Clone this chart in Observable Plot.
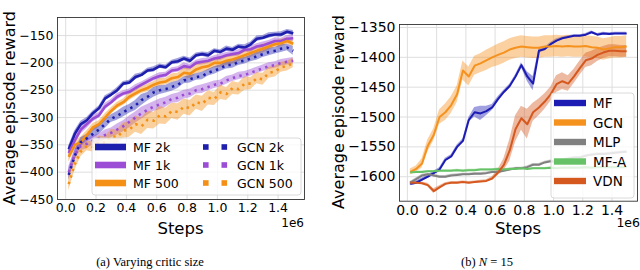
<!DOCTYPE html>
<html><head><meta charset="utf-8">
<script src="https://cdn.jsdelivr.net/npm/d3@7"></script>
<script src="https://cdn.jsdelivr.net/npm/@observablehq/plot@0.6"></script>
<style>
body{margin:0;background:#fff;}
#wrap{position:relative;width:640px;height:270px;overflow:hidden;background:#fff;}
.panel{position:absolute;top:0;}
#ov{position:absolute;left:0;top:0;pointer-events:none;}
</style></head>
<body><div id="wrap"><div class="panel" id="pa" style="left:0"></div><div class="panel" id="pb" style="left:320px"></div><svg id="ov" width="640" height="270"></svg></div>
<script>
// shared x positions (in units of 1e6 steps)
const steps = [0.02,0.06,0.10,0.14,0.18, 0.22,0.26,0.30,0.34,0.38, 0.42,0.46,0.50,0.54,0.58, 0.62,0.66,0.70,0.74,0.78, 0.82,0.86,0.90,0.94,0.98, 1.02,1.06,1.10,1.14,1.18, 1.22,1.26,1.30,1.34,1.38, 1.42,1.46,1.50];
const xTicks = [0,0.2,0.4,0.6,0.8,1.0,1.2,1.4];

// ---- panel (a): varying critic size ----
const aLabels = ["MF 2k","MF 1k","MF 500","GCN 2k","GCN 1k","GCN 500"];
const aYTicks = [-450,-400,-350,-300,-250,-200,-150];
const mf2k  = [-358,-330,-312,-305,-292, -283,-265,-258,-250,-238, -236,-226,-222,-214,-212, -206,-208,-199,-197,-192, -196,-186,-184,-186,-178, -180,-174,-176,-170,-172, -166,-156,-154,-150,-148, -148,-143,-146];
const mf1k  = [-365,-342,-322,-312,-302, -296,-280,-272,-262,-256, -253,-246,-240,-234,-228, -224,-222,-214,-212,-206, -208,-200,-198,-196,-192, -190,-186,-184,-182,-176, -175,-170,-168,-164,-160, -160,-156,-155];
const mf500 = [-372,-350,-345,-332,-318, -312,-300,-288,-278,-272, -262,-256,-250,-246,-240, -236,-234,-228,-226,-218, -220,-212,-208,-206,-200, -200,-196,-194,-190,-186, -182,-178,-174,-170,-166, -164,-160,-165];
const gcn2k = [-405,-370,-345,-338,-330, -322,-312,-302,-297,-290, -284,-278,-268,-262,-254, -250,-248,-244,-240,-232, -230,-226,-224,-218,-214, -210,-204,-204,-198,-196, -192,-188,-184,-180,-178, -174,-172,-178];
const gcn1k = [-400,-368,-352,-348,-342, -338,-332,-328,-322,-316, -308,-300,-292,-286,-280, -276,-272,-266,-264,-258, -256,-250,-248,-244,-240, -238,-232,-228,-224,-222, -218,-214,-210,-206,-204, -200,-198,-196];
const gcn500= [-422,-385,-362,-352,-354, -344,-346,-334,-336,-324, -322,-312,-316,-304,-306, -296,-298,-288,-290,-280, -283,-272,-275,-264,-266, -254,-257,-246,-248,-238, -238,-228,-230,-218,-216, -208,-206,-200];
// half-width of shaded band
const bMf2k  = [6,6,5,5,4, 4,5,4,5,4, 4,5,4,4,5, 4,4,4,5,4, 5,4,4,5,4, 4,5,4,4,5, 4,5,4,5,4, 5,4,5];
const bMf1k  = [8,7,8,8,6, 5,6,5,6,5, 5,6,5,5,5, 6,5,5,5,6, 5,5,6,5,5, 6,5,5,6,5, 6,5,6,5,6, 5,6,6];
const bMf500 = [10,9,9,8,7, 6,7,6,6,6, 7,6,6,7,6, 7,6,8,7,8, 9,8,9,8,9, 8,9,8,8,7, 8,7,8,7,6, 7,6,6];
const bGcn2k = [10,9,8,7,8, 9,8,7,8,9, 8,9,10,8,9, 8,7,8,7,6, 7,6,7,6,7, 6,7,6,7,6, 6,7,6,7,6, 7,6,8];
const bGcn1k = [10,10,9,9,8, 8,9,9,10,10, 11,10,11,10,9, 10,9,8,9,8, 8,7,8,7,7, 6,7,6,7,6, 6,6,6,6,6, 6,6,6];
const bGcn500= [12,12,10,9,9, 10,11,12,13,14, 14,15,15,16,15, 16,15,14,15,14, 14,13,14,13,12, 13,12,12,11,12, 11,10,11,10,10, 9,9,9];

// ---- panel (b): N = 15 ----
const bLabels = ["MF","GCN","MLP","MF-A","VDN"];
const bYTicks = [-1600,-1550,-1500,-1450,-1400,-1350];
const rMF   = [-1612,-1610,-1605,-1600,-1594, -1588,-1572,-1566,-1550,-1540, -1505,-1492,-1494,-1490,-1484, -1470,-1458,-1448,-1432,-1413, -1432,-1444,-1389,-1386,-1378, -1372,-1368,-1366,-1364,-1364, -1362,-1358,-1362,-1360,-1361, -1360,-1360,-1360];
const rGCN  = [-1592,-1587,-1578,-1548,-1530, -1500,-1492,-1480,-1462,-1422, -1432,-1414,-1410,-1405,-1400, -1396,-1392,-1387,-1384,-1382, -1383,-1384,-1384,-1382,-1382, -1381,-1382,-1381,-1382,-1382, -1381,-1383,-1384,-1387,-1385, -1383,-1383,-1382];
const rMLP  = [-1610,-1604,-1598,-1596,-1598, -1600,-1600,-1598,-1597,-1596, -1596,-1595,-1595,-1594,-1592, -1592,-1590,-1588,-1586,-1586, -1584,-1580,-1580,-1576,-1574, -1575,-1572,-1570,-1568,-1568, -1565,-1563,-1562,-1562,-1561, -1560,-1559,-1558];
const rMFA  = [-1593,-1592,-1592,-1591,-1591, -1590,-1590,-1590,-1589,-1590, -1589,-1589,-1588,-1588,-1588, -1587,-1588,-1587,-1587,-1586, -1587,-1586,-1586,-1586,-1585, -1586,-1585,-1585,-1585,-1585, -1584,-1585,-1584,-1584,-1584, -1584,-1584,-1584];
const rVDN  = [-1610,-1610,-1611,-1614,-1624, -1618,-1612,-1610,-1610,-1609, -1610,-1609,-1608,-1607,-1603, -1593,-1580,-1556,-1520,-1502, -1512,-1492,-1484,-1474,-1462, -1445,-1440,-1444,-1432,-1418, -1405,-1402,-1396,-1392,-1389, -1389,-1390,-1390];
const sMF   = [3,3,3,3,3, 3,3,3,3,3, 4,8,12,8,5, 4,3,3,3,4, 8,12,4,3,3, 3,2,2,2,2, 2,2,2,2,2, 2,2,2];
const sGCN  = [5,5,8,10,10, 12,14,14,14,16, 16,16,16,17,17, 18,18,18,18,18, 18,18,18,18,18, 18,18,18,18,18, 18,18,18,18,18, 18,18,18];
const sMLP  = [2,2,2,2,2, 2,2,2,2,2, 2,2,2,2,2, 2,2,2,2,2, 2,2,2,2,2, 2,2,2,2,2, 2,2,2,2,2, 2,2,2];
const sMFA  = [1.5,1.5,1.5,1.5,1.5, 1.5,1.5,1.5,1.5,1.5, 1.5,1.5,1.5,1.5,1.5, 1.5,1.5,1.5,1.5,1.5, 1.5,1.5,1.5,1.5,1.5, 1.5,1.5,1.5,1.5,1.5, 1.5,1.5,1.5,1.5,1.5, 1.5,1.5,1.5];
const sVDN  = [2,2,2,3,4, 3,2,2,2,2, 2,2,2,2,3, 5,10,18,22,20, 25,15,14,13,12, 14,14,13,12,12, 12,12,11,10,10, 10,10,10];

const BLUE="#1f1fae", PURPLE="#9b4dd6", ORANGE="#f39015";
const aSeries = [
  {label:aLabels[0], v:mf2k,  b:bMf2k,  color:BLUE,   dotted:false},
  {label:aLabels[1], v:mf1k,  b:bMf1k,  color:PURPLE, dotted:false},
  {label:aLabels[2], v:mf500, b:bMf500, color:ORANGE, dotted:false},
  {label:aLabels[3], v:gcn2k, b:bGcn2k, color:BLUE,   dotted:true},
  {label:aLabels[4], v:gcn1k, b:bGcn1k, color:PURPLE, dotted:true},
  {label:aLabels[5], v:gcn500,b:bGcn500,color:ORANGE, dotted:true}
];
const bSeries = [
  {label:bLabels[0], v:rMF,  b:sMF,  color:"#1c1cb4"},
  {label:bLabels[1], v:rGCN, b:sGCN, color:"#f5921e"},
  {label:bLabels[2], v:rMLP, b:sMLP, color:"#808080"},
  {label:bLabels[3], v:rMFA, b:sMFA, color:"#66c266"},
  {label:bLabels[4], v:rVDN, b:sVDN, color:"#d5591f"}
];

function rows(s){ return steps.map((x,i)=>({x, y:s.v[i], lo:s.v[i]-s.b[i], hi:s.v[i]+s.b[i]})); }

function panel(series, yDomain, yTicks, m, fs, lw){
  const marks = [
    Plot.gridX({ticks:xTicks, stroke:"#dadada", strokeOpacity:1, strokeWidth:0.9}),
    Plot.gridY({ticks:yTicks, stroke:"#dadada", strokeOpacity:1, strokeWidth:0.9})
  ];
  for (const s of series) marks.push(Plot.areaY(rows(s), {x:"x", y1:"lo", y2:"hi", fill:s.color, fillOpacity:0.42}));
  for (const s of series) marks.push(Plot.lineY(rows(s), {x:"x", y:"y", stroke:s.color, strokeWidth:lw,
      strokeDasharray: s.dotted ? "2.4,4.4" : null, strokeLinecap:"butt"}));
  marks.push(Plot.frame({stroke:"#333", strokeWidth:0.9}));
  marks.push(Plot.axisX({ticks:xTicks, tickSize:0, tickPadding:4, tickFormat:d3.format(".1f"), label:null, fontSize:fs}));
  marks.push(Plot.axisY({ticks:yTicks, tickSize:0, tickPadding:4, tickFormat:d3.format("d"), label:null, fontSize:fs}));
  return Plot.plot({width:320, height:245, marginLeft:m[0], marginRight:m[1], marginTop:m[2], marginBottom:m[3],
    x:{domain:[-0.054,1.574]}, y:{domain:yDomain},
    style:{fontFamily:"DejaVu Sans", color:"#000", background:"transparent", overflow:"visible"},
    marks});
}

document.getElementById("pa").appendChild(panel(aSeries, [-450,-117], aYTicks, [57,16,17,46], 12.5, 2.6));
document.getElementById("pb").appendChild(panel(bSeries, [-1641,-1345], bYTicks, [79,3,24,44.3], 14, 2));

// ---- overlay: axis titles, offsets, legends, captions ----
const ov = d3.select("#ov");
const T = (x,y,txt,o={}) => ov.append("text").attr("x",x).attr("y",y).text(txt)
  .attr("font-family",o.ff||"DejaVu Sans").attr("font-size",o.fs||12).attr("text-anchor",o.a||"start")
  .attr("fill","#000").attr("transform",o.rot?`rotate(-90 ${x} ${y})`:null);

T(180.5,234,"Steps",{fs:16.5,a:"middle"});
T(518,234,"Steps",{fs:16.5,a:"middle"});
T(304,227,"1e6",{fs:12,a:"end"});
T(640,227,"1e6",{fs:12.5,a:"end"});
T(15,108,"Average episode reward",{fs:16,a:"middle",rot:true});
T(344,112,"Average episode reward",{fs:16,a:"middle",rot:true});

// legend (a)
ov.append("rect").attr("x",92).attr("y",138).attr("width",209).attr("height",57).attr("rx",3)
  .attr("fill","#fff").attr("fill-opacity",0.8).attr("stroke","#d0d0d0").attr("stroke-width",0.8);
const aRowY=[147,165,183];
aSeries.forEach((s,i)=>{
  const r=i%3, y=aRowY[r];
  if(!s.dotted){
    ov.append("rect").attr("x",95).attr("y",y-3.3).attr("width",31).attr("height",6.6).attr("fill",s.color);
    T(133,y+4.5,s.label,{fs:12.5});
  } else {
    [203,221.5].forEach(x=>ov.append("rect").attr("x",x).attr("y",y-2.8).attr("width",5.6).attr("height",5.6).attr("fill",s.color));
    T(237,y+4.5,s.label,{fs:12.5});
  }
});
// legend (b)
ov.append("rect").attr("x",551).attr("y",93).attr("width",83).attr("height",105).attr("rx",3)
  .attr("fill","#fff").attr("fill-opacity",0.8).attr("stroke","#d0d0d0").attr("stroke-width",0.8);
bSeries.forEach((s,i)=>{
  const y=103+i*19.5;
  ov.append("rect").attr("x",554).attr("y",y-3.2).attr("width",32).attr("height",6.4).attr("fill",s.color);
  T(593,y+5,s.label,{fs:13.5});
});

// captions
T(150,266,"(a) Varying critic size",{ff:"Liberation Serif",fs:12.5,a:"middle"});
const cb = ov.append("text").attr("x",487).attr("y",266).attr("text-anchor","middle")
  .attr("font-family","Liberation Serif").attr("font-size",12.5).attr("fill","#000");
cb.append("tspan").text("(b) ");
cb.append("tspan").attr("font-style","italic").text("N");
cb.append("tspan").text(" = 15");
</script></body></html>
